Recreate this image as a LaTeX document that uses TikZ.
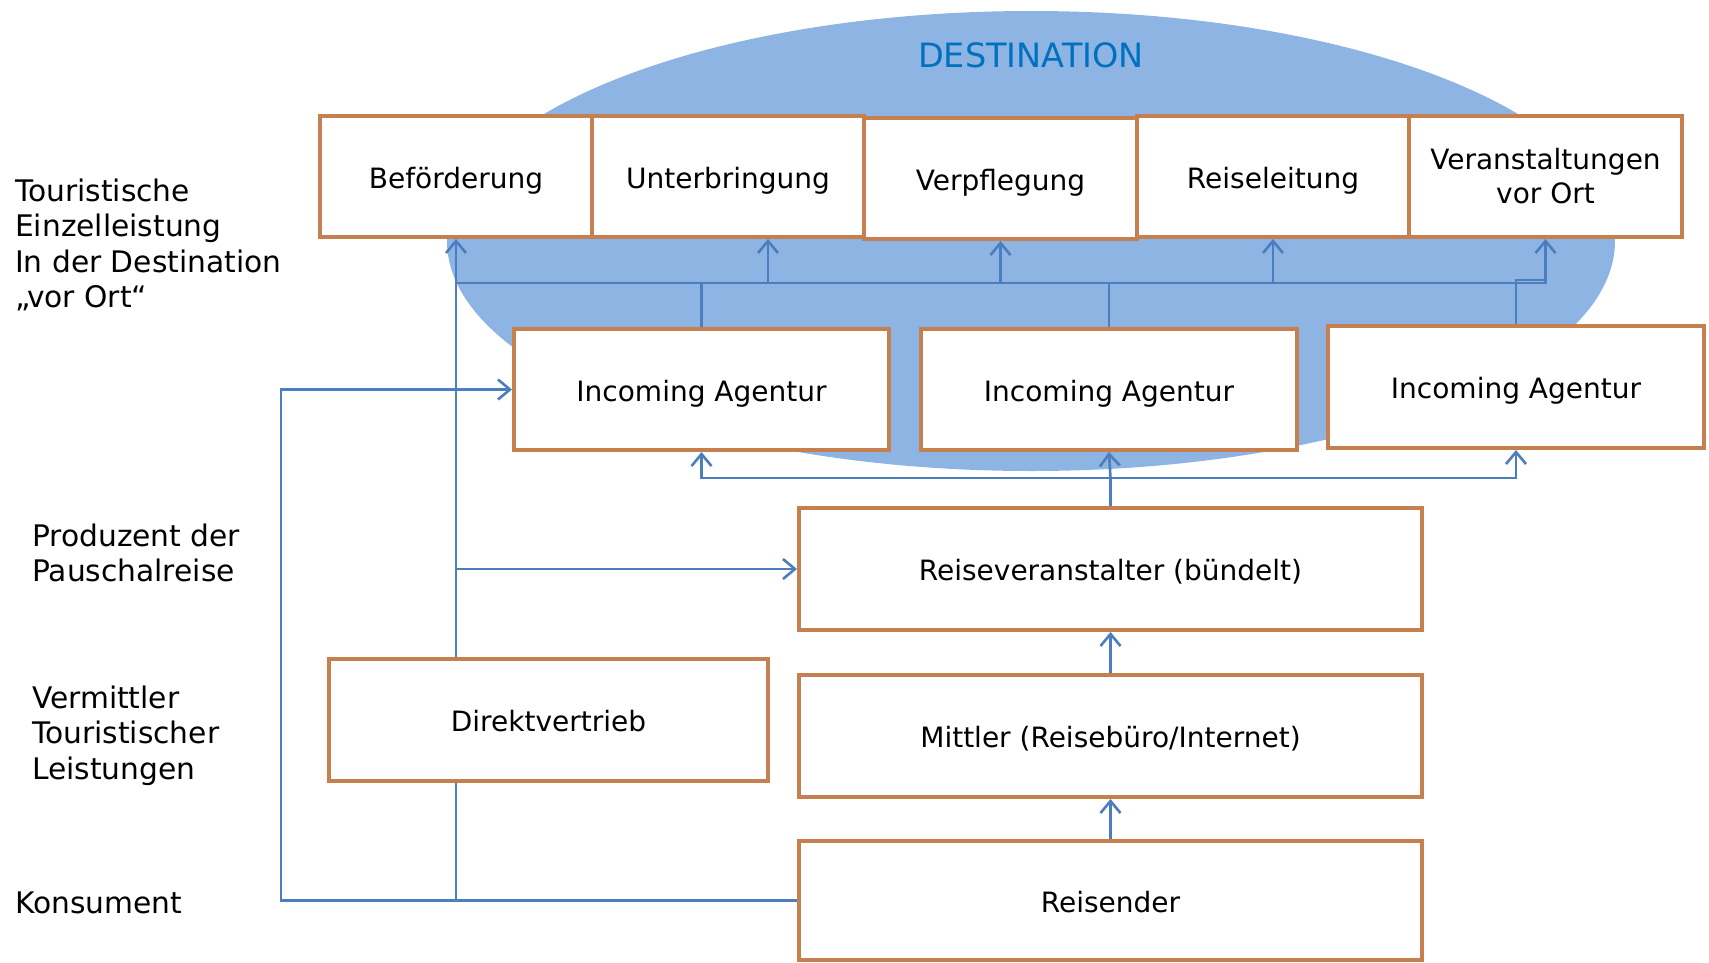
\documentclass[tikz,border=0pt]{standalone}
\usepackage{fontspec}
\setmainfont{DejaVu Sans}
\usetikzlibrary{arrows.meta}
\definecolor{boxc}{RGB}{198,128,80}
\definecolor{connc}{RGB}{74,126,190}
\definecolor{ellc}{RGB}{142,180,227}
\definecolor{destc}{RGB}{0,112,192}
\tikzset{
  box/.style={draw=boxc, line width=4pt, fill=white, align=center, inner sep=0pt,
    font=\fontsize{28}{34}\selectfont},
  onebox/.style={box, text height=26pt, text depth=3pt},
  conn/.style={draw=connc, line width=2.6pt},
  arr/.style={conn, -{Straight Barb[length=12pt,width=20pt]}},
  lab/.style={anchor=west, align=left, inner sep=0pt, font=\fontsize{29.7}{35.5}\selectfont}
}
\begin{document}
\begin{tikzpicture}[x=1pt,y=-1pt]
\useasboundingbox (0,0) rectangle (1709,962);
\fill[ellc] (1031,241) ellipse [x radius=584, y radius=230];
\node[text=destc, font=\fontsize{33.5}{38}\selectfont] (dest) at (1031,55) {DESTINATION};

% top boxes
\node[onebox, minimum width=272, minimum height=121] (bef) at (456,176.5) {Beförderung};
\node[onebox, minimum width=272, minimum height=121] (ub) at (728,176.5) {Unterbringung};
\node[onebox, minimum width=273, minimum height=121] (vp) at (1000.5,178.5) {Verpflegung};
\node[onebox, minimum width=272, minimum height=121] (rl) at (1273,176.5) {Reiseleitung};
\node[box, minimum width=273, minimum height=121] (va) at (1545.5,176.5) {Veranstaltungen\\vor Ort};

% incoming agencies
\node[onebox, minimum width=375, minimum height=121] (ia1) at (701.5,389.5) {Incoming Agentur};
\node[onebox, minimum width=376, minimum height=121] (ia2) at (1109,389.5) {Incoming Agentur};
\node[onebox, minimum width=376, minimum height=122] (ia3) at (1516,387) {Incoming Agentur};

% lower chain
\node[onebox, minimum width=623, minimum height=122] (rv) at (1110.5,569) {Reiseveranstalter (bündelt)};
\node[onebox, minimum width=623, minimum height=122] (mi) at (1110.5,736) {Mittler (Reisebüro/Internet)};
\node[onebox, minimum width=623, minimum height=119] (rs) at (1110.5,900.5) {Reisender};
\node[onebox, minimum width=439, minimum height=122] (dv) at (548.5,720) {Direktvertrieb};

% left labels
\node[lab] (l1) at (15,245) {Touristische\\Einzelleistung\\In der Destination\\„vor Ort“};
\node[lab] (l2) at (32,553) {Produzent der\\Pauschalreise};
\node[lab] (l3) at (32,735.5) {Vermittler\\Touristischer\\Leistungen};
\node[lab] (l4) at (15,903) {Konsument};

% coordinates
\coordinate (bus) at (0,283);
\coordinate (bus2) at (0,280);
\coordinate (lb) at (0,478);
\coordinate (kL) at (281,0);
\coordinate (ubA) at (768,283);

% direct distribution
\draw[arr] (bef.south |- dv.north) -- (bef.south);
\draw[conn] (bef.south |- dv.south) -- (bef.south |- rs.west);
\draw[arr] (rs.west) -- (rs.west -| kL) |- (ia1.west);
\draw[arr] (bef.south |- rv.west) -- (rv.west);

% top bus
\draw[conn] (bef.south |- bus) -- (rl.south |- bus);
\draw[conn] (ia1.north) -- (ia1.north |- bus);
\draw[conn] (ia2.north) -- (ia2.north |- bus);
\draw[arr] (ubA) -- (ubA |- ub.south);
\draw[arr] (vp.south |- bus) -- (vp.south);
\draw[arr] (rl.south |- bus) -- (rl.south);
\draw[arr] (rl.south |- bus) -- (va.south |- bus) -- (va.south);
\draw[conn] (ia3.north) -- (ia3.north |- bus2) -- (va.south |- bus2);

% lower bus
\draw[conn] (rv.north) -- (rv.north |- lb);
\draw[arr] (rv.north |- lb) -- (ia1.south |- lb) -- (ia1.south);
\draw[arr] (rv.north |- lb) -- (ia2.south);
\draw[arr] (rv.north |- lb) -- (ia3.south |- lb) -- (ia3.south);

% chain
\draw[arr] (mi.north) -- (rv.south);
\draw[arr] (rs.north) -- (mi.south);
\end{tikzpicture}
\end{document}
